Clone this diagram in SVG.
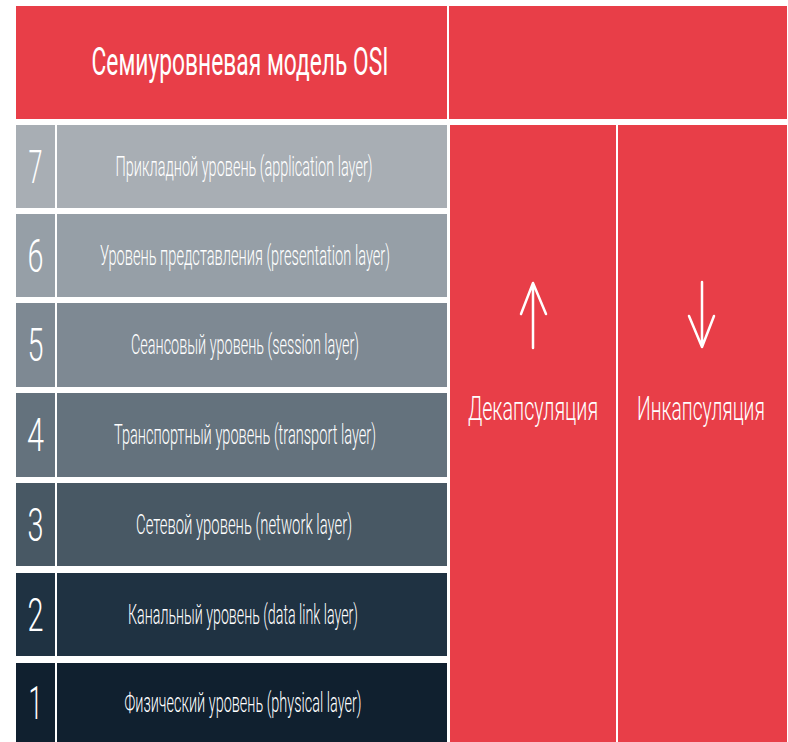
<svg xmlns="http://www.w3.org/2000/svg" width="788" height="742" viewBox="0 0 788 742">
<style>
.red{fill:#e83e48}
.t{fill:#ffffff;font-family:Roboto,"Liberation Sans",sans-serif;font-weight:300}
.num{font-size:46px;text-anchor:middle}
.lbl{font-size:27px;text-anchor:middle}
.big{font-size:34px;text-anchor:middle}
.arr{fill:none;stroke:#ffffff;stroke-width:2.5;stroke-linecap:round;stroke-linejoin:round}
</style>
<rect x="0" y="0" width="788" height="742" fill="#ffffff"/>
<g id="header">
<rect class="red" x="16" y="6" width="431" height="113"/>
<text class="t" x="240" y="75" font-size="39" text-anchor="middle" textLength="297" lengthAdjust="spacingAndGlyphs" style="font-weight:400">Семиуровневая модель OSI</text>
</g>
<g id="header-right">
<rect class="red" x="449" y="6" width="338" height="113"/>
</g>
<g id="layer7">
<rect x="16" y="125" width="39" height="83" fill="#a8aeb4"/>
<rect x="57" y="125" width="390" height="83" fill="#a8aeb4"/>
<text class="t num" x="35.5" y="183" textLength="14" lengthAdjust="spacingAndGlyphs">7</text>
<text class="t lbl" x="244" y="176" textLength="257" lengthAdjust="spacingAndGlyphs">Прикладной уровень (application layer)</text>
</g>
<g id="layer6">
<rect x="16" y="214" width="39" height="83" fill="#969fa7"/>
<rect x="57" y="214" width="390" height="83" fill="#969fa7"/>
<text class="t num" x="35.5" y="272" textLength="16" lengthAdjust="spacingAndGlyphs">6</text>
<text class="t lbl" x="245" y="265" textLength="290" lengthAdjust="spacingAndGlyphs">Уровень представления (presentation layer)</text>
</g>
<g id="layer5">
<rect x="16" y="303" width="39" height="84" fill="#7e8993"/>
<rect x="57" y="303" width="390" height="84" fill="#7e8993"/>
<text class="t num" x="35.5" y="361" textLength="16" lengthAdjust="spacingAndGlyphs">5</text>
<text class="t lbl" x="245" y="354" textLength="228" lengthAdjust="spacingAndGlyphs">Сеансовый уровень (session layer)</text>
</g>
<g id="layer4">
<rect x="16" y="393" width="39" height="84" fill="#64727d"/>
<rect x="57" y="393" width="390" height="84" fill="#64727d"/>
<text class="t num" x="35.5" y="451" textLength="17" lengthAdjust="spacingAndGlyphs">4</text>
<text class="t lbl" x="245" y="444" textLength="262" lengthAdjust="spacingAndGlyphs">Транспортный уровень (transport layer)</text>
</g>
<g id="layer3">
<rect x="16" y="483" width="39" height="83" fill="#485864"/>
<rect x="57" y="483" width="390" height="83" fill="#485864"/>
<text class="t num" x="35.5" y="541" textLength="16" lengthAdjust="spacingAndGlyphs">3</text>
<text class="t lbl" x="244" y="534" textLength="216" lengthAdjust="spacingAndGlyphs">Сетевой уровень (network layer)</text>
</g>
<g id="layer2">
<rect x="16" y="573" width="39" height="83" fill="#1f3242"/>
<rect x="57" y="573" width="390" height="83" fill="#1f3242"/>
<text class="t num" x="35.5" y="631" textLength="16" lengthAdjust="spacingAndGlyphs">2</text>
<text class="t lbl" x="243" y="624" textLength="230" lengthAdjust="spacingAndGlyphs">Канальный уровень (data link layer)</text>
</g>
<g id="layer1">
<rect x="16" y="663" width="39" height="79" fill="#10202f"/>
<rect x="57" y="663" width="390" height="79" fill="#10202f"/>
<text class="t num" transform="translate(35.5 719) scale(0.55 1)" x="0" y="0">1</text>
<text class="t lbl" x="243" y="712" textLength="237" lengthAdjust="spacingAndGlyphs">Физический уровень (physical layer)</text>
</g>
<g id="decapsulation">
<rect class="red" x="450" y="125" width="166" height="617"/>
<text class="t big" transform="translate(533 420) scale(0.6 1)" x="0" y="0" textLength="217" lengthAdjust="spacingAndGlyphs">Декапсуляция</text>
</g>
<g id="encapsulation">
<rect class="red" x="618" y="125" width="169" height="617"/>
<text class="t big" transform="translate(701 420) scale(0.6 1)" x="0" y="0" textLength="213" lengthAdjust="spacingAndGlyphs">Инкапсуляция</text>
</g>
<g id="connectors">
<path class="arr" d="M533 348 V283 M521 314 L533 283 L546 314"/>
<path class="arr" d="M702 282 V347 M689 316 L702 347 L714 316"/>
</g>
</svg>
